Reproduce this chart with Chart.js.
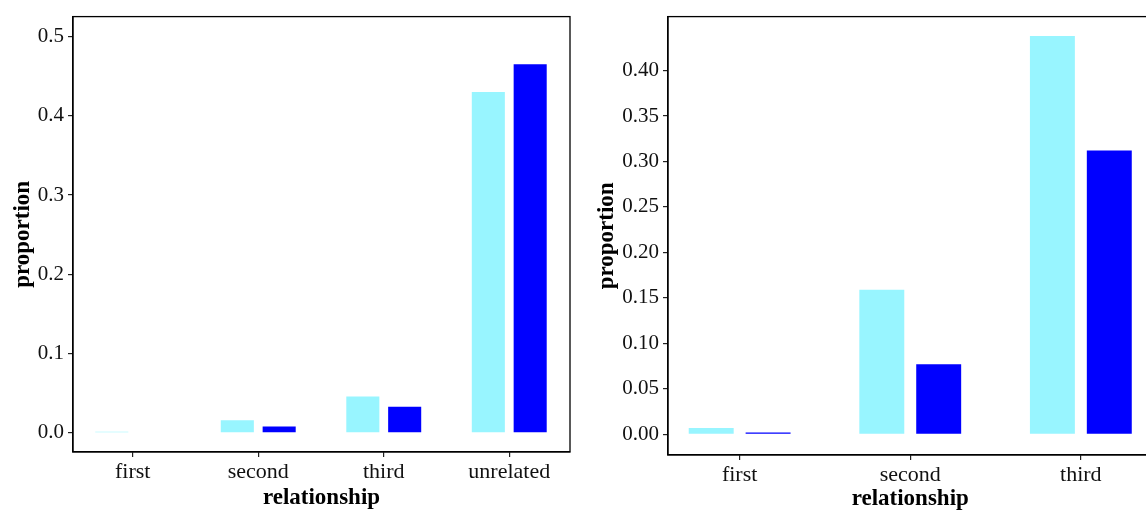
<!DOCTYPE html>
<html>
<head>
<meta charset="utf-8">
<script src="https://cdn.jsdelivr.net/npm/chart.js@4.4.1/dist/chart.umd.min.js"></script>
<style>
  html, body { margin: 0; padding: 0; background: #fff; overflow: hidden; width: 1146px; height: 511px; }
  #graficoIzq { position: absolute; left: 0; top: 0; }
  #graficoDer { position: absolute; left: 590px; top: 0; }
</style>
</head>
<body>
<canvas id="graficoIzq" width="580" height="511"></canvas>
<canvas id="graficoDer" width="570" height="511"></canvas>
<script>
// Panel izquierdo
const categoriasIzq = ['first', 'second', 'third', 'unrelated'];
const grupo1Izq = [0.0015, 0.016, 0.046, 0.430];
const grupo2Izq = [0, 0.008, 0.033, 0.465];
const ticksYIzq = [0, 0.1, 0.2, 0.3, 0.4, 0.5];

// Panel derecho
const categoriasDer = ['first', 'second', 'third'];
const grupo1Der = [0.007, 0.159, 0.438];
const grupo2Der = [0.002, 0.077, 0.312];
const ticksYDer = [0, 0.05, 0.10, 0.15, 0.20, 0.25, 0.30, 0.35, 0.40];

const COLOR_CLARO = '#98F5FF';
const COLOR_OSCURO = '#0000FF';
const FUENTE = '"Liberation Serif", "Times New Roman", serif';

// dibuja el recuadro completo alrededor del area del grafico
const marcoPlugin = {
  id: 'marco',
  afterDraw(chart) {
    const a = chart.chartArea;
    const ctx = chart.ctx;
    ctx.save();
    ctx.strokeStyle = '#000';
    ctx.lineWidth = 1.3;
    ctx.strokeRect(a.left, a.top, a.right - a.left, a.bottom - a.top);
    ctx.restore();
  }
};

function crearGrafico(id, categorias, g1, g2, ticksY, decimales, cfg) {
  const ctx = document.getElementById(id).getContext('2d');
  return new Chart(ctx, {
    type: 'bar',
    data: {
      datasets: [
        { data: g1.map((v, i) => ({ x: i + 1, y: v })), backgroundColor: COLOR_CLARO, borderWidth: 0 },
        { data: g2.map((v, i) => ({ x: i + 1, y: v })), backgroundColor: COLOR_OSCURO, borderWidth: 0 }
      ]
    },
    options: {
      responsive: false,
      animation: false,
      categoryPercentage: 0.667,
      barPercentage: 0.79,
      layout: { padding: cfg.padding },
      plugins: { legend: { display: false }, tooltip: { enabled: false } },
      scales: {
        x: {
          type: 'linear',
          offset: false,
          min: cfg.xMin,
          max: cfg.xMax,
          afterBuildTicks: (scale) => { scale.ticks = categorias.map((c, i) => ({ value: i + 1 })); },
          afterFit: (scale) => { scale.height = cfg.altoX; },
          grid: { display: true, drawOnChartArea: false, offset: false, tickLength: 5, color: '#222', lineWidth: 1.2 },
          border: { display: true, color: '#000', width: 1.3 },
          ticks: {
            autoSkip: false, maxRotation: 0, padding: 2,
            color: '#111', font: { family: FUENTE, size: 22 },
            callback: (v) => categorias[Math.round(v) - 1]
          },
          title: {
            display: true, text: 'relationship', color: '#000',
            font: { family: FUENTE, size: 23, weight: 'bold', lineHeight: 1 },
            padding: { top: 0, bottom: cfg.tituloXPad }
          }
        },
        y: {
          min: cfg.yMin,
          max: cfg.yMax,
          afterBuildTicks: (scale) => { scale.ticks = ticksY.map(v => ({ value: v })); },
          afterFit: (scale) => { scale.width = cfg.anchoY; },
          grid: { display: true, drawOnChartArea: false, tickLength: 5, color: '#222', lineWidth: 1.2 },
          border: { display: true, color: '#000', width: 1.3 },
          ticks: {
            padding: 4, color: '#111', font: { family: FUENTE, size: 21 },
            callback: (v) => v.toFixed(decimales)
          },
          title: {
            display: true, text: 'proportion', color: '#000',
            font: { family: FUENTE, size: 23, weight: 'bold' },
            padding: { top: cfg.tituloYPad, bottom: 0 }
          }
        }
      }
    },
    plugins: [marcoPlugin]
  });
}

crearGrafico('graficoIzq', categoriasIzq, grupo1Izq, grupo2Izq, ticksYIzq, 1, {
  padding: { top: 14, right: 10, bottom: 0, left: 0 },
  xMin: 0.524, xMax: 4.484,
  yMin: -0.024, yMax: 0.525,
  altoX: 59, anchoY: 73,
  tituloXPad: 1.5, tituloYPad: 9
});

crearGrafico('graficoDer', categoriasDer, grupo1Der, grupo2Der, ticksYDer, 2, {
  padding: { top: 16, right: 7.5, bottom: 0, left: 0 },
  xMin: 0.58, xMax: 3.42,
  yMin: -0.0227, yMax: 0.4593,
  altoX: 56, anchoY: 78,
  tituloXPad: 0, tituloYPad: 3
});
</script>
</body>
</html>
